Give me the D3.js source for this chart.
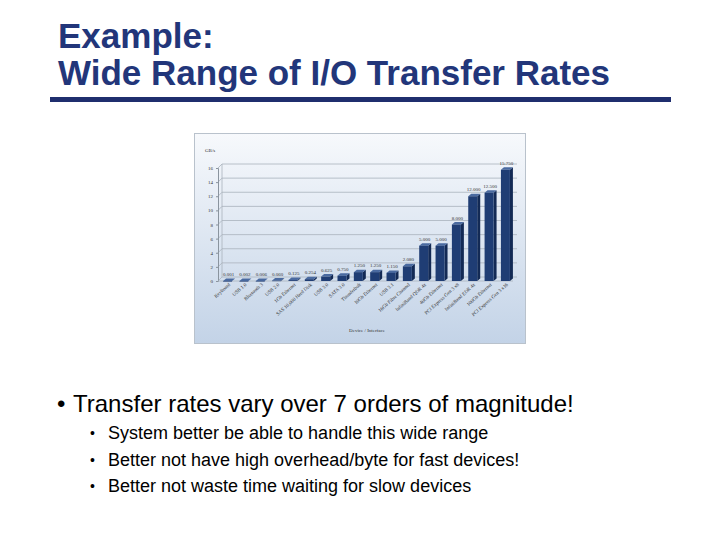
<!DOCTYPE html>
<html>
<head>
<meta charset="utf-8">
<script src="https://cdn.jsdelivr.net/npm/d3@7"></script>
<style>
  body { margin: 0; background: #ffffff; }
  svg { display: block; }
</style>
</head>
<body>
<div id="slide"></div>
<script>
// chart data (GB/s)
var devices = ["Keyboard", "USB 1.0", "Bluetooth 3", "USB 2.0", "1Gb Ethernet",
  "SAS 10,000 Hard Disk", "USB 3.0", "SATA 3.0", "Thunderbolt", "10Gb Ethernet",
  "USB 3.1", "16Gb Fibre Channel", "InfiniBand QDR 4x", "40Gb Ethernet",
  "PCI Express Gen 3 x8", "InfiniBand EDR 4x", "100Gb Ethernet", "PCI Express Gen 3 x16"];
var rates = [0.001, 0.002, 0.006, 0.060, 0.125, 0.254, 0.625, 0.750, 1.250, 1.250,
  1.150, 2.080, 5.000, 5.000, 8.000, 12.000, 12.500, 15.750];
var yTicks = [0, 2, 4, 6, 8, 10, 12, 14, 16];

var bullets = ["System better be able to handle this wide range",
  "Better not have high overhead/byte for fast devices!",
  "Better not waste time waiting for slow devices"];

var titleColor = "#22367a";
var barFront = "#1f3d74";
var barSide = "#132a55";
var barTop = "#4a6aa0";
var sans = "Liberation Sans, Arial, sans-serif";
var small = "Liberation Serif, serif";

var svg = d3.select("#slide").append("svg")
  .attr("width", 720)
  .attr("height", 540);

// title
svg.append("text").attr("x", 58).attr("y", 48)
  .attr("font-family", sans)
  .attr("font-weight", "bold").attr("font-size", 35)
  .attr("fill", titleColor).text("Example:");
svg.append("text").attr("x", 58).attr("y", 85)
  .attr("font-family", sans)
  .attr("font-weight", "bold").attr("font-size", 35)
  .attr("fill", titleColor).text("Wide Range of I/O Transfer Rates");
svg.append("rect").attr("x", 50).attr("y", 97).attr("width", 621).attr("height", 5)
  .attr("fill", "#1f2e6e");

// chart panel
var defs = svg.append("defs");
var grad = defs.append("linearGradient").attr("id", "panelGrad")
  .attr("x1", 0).attr("y1", 0).attr("x2", 0).attr("y2", 1);
grad.append("stop").attr("offset", "0%").attr("stop-color", "#f7f9fc");
grad.append("stop").attr("offset", "100%").attr("stop-color", "#c3d3e7");

svg.append("rect").attr("x", 194.5).attr("y", 133.5).attr("width", 331).attr("height", 210)
  .attr("fill", "url(#panelGrad)").attr("stroke", "#b9c2cc").attr("stroke-width", 1);

var dx = 4, dy = 4; // 3d depth offset

var y = d3.scaleLinear().domain([0, 16]).range([281, 168]);
var x = d3.scaleBand().domain(devices).range([219, 514]).paddingInner(0.45).paddingOuter(0.25);

var chart = svg.append("g");

// back wall gridlines
chart.selectAll("line.grid").data(yTicks).enter().append("line")
  .attr("class", "grid")
  .attr("x1", 218 + dx).attr("x2", 517)
  .attr("y1", function(d){ return y(d) - dy; })
  .attr("y2", function(d){ return y(d) - dy; })
  .attr("stroke", "#a9b3bd").attr("stroke-width", 0.8);
chart.selectAll("line.slant").data(yTicks).enter().append("line")
  .attr("class", "slant")
  .attr("x1", 218).attr("x2", 218 + dx)
  .attr("y1", function(d){ return y(d); })
  .attr("y2", function(d){ return y(d) - dy; })
  .attr("stroke", "#a9b3bd").attr("stroke-width", 0.8);
chart.append("line").attr("x1", 218 + dx).attr("x2", 218 + dx)
  .attr("y1", y(16) - dy).attr("y2", y(0) - dy)
  .attr("stroke", "#a9b3bd").attr("stroke-width", 0.8);

// y axis
var yAxis = d3.axisLeft(y).tickValues(yTicks).tickSize(2).tickPadding(3);
var ya = chart.append("g").attr("transform", "translate(218,0)").call(yAxis);
ya.select(".domain").attr("stroke", "#8a949e");
ya.selectAll(".tick line").attr("stroke", "#8a949e");
ya.selectAll("text").attr("font-family", small)
  .attr("font-size", 5).attr("fill", "#333");
chart.append("line").attr("x1", 218).attr("x2", 513)
  .attr("y1", y(0)).attr("y2", y(0)).attr("stroke", "#a9b3bd").attr("stroke-width", 0.8);

chart.append("text").attr("x", 205).attr("y", 152)
  .attr("font-family", small).attr("font-size", 5)
  .attr("fill", "#333").text("GB/s");

// bars
var bars = chart.selectAll("g.bar").data(rates).enter().append("g").attr("class", "bar");
var bw = x.bandwidth();
bars.append("path")
  .attr("d", function(d, i){
    var x0 = x(devices[i]) + bw, y0 = y(d), y1 = y(0);
    return "M" + x0 + "," + y0 + "L" + (x0 + 3) + "," + (y0 - 2.5) + "L" + (x0 + 3) + "," + (y1 - 2.5) + "L" + x0 + "," + y1 + "Z";
  })
  .attr("fill", barSide);
bars.append("path")
  .attr("d", function(d, i){
    var x0 = x(devices[i]), y0 = y(d);
    return "M" + x0 + "," + y0 + "L" + (x0 + 3) + "," + (y0 - 2.5) + "L" + (x0 + bw + 3) + "," + (y0 - 2.5) + "L" + (x0 + bw) + "," + y0 + "Z";
  })
  .attr("fill", barTop);
bars.append("rect")
  .attr("x", function(d, i){ return x(devices[i]); })
  .attr("y", function(d){ return y(d); })
  .attr("width", bw)
  .attr("height", function(d){ return Math.max(0.6, y(0) - y(d)); })
  .attr("fill", barFront);

// value labels
chart.selectAll("text.val").data(rates).enter().append("text")
  .attr("class", "val")
  .attr("x", function(d, i){ return x(devices[i]) + bw / 2 + 1; })
  .attr("y", function(d){ return y(d) - 5; })
  .attr("text-anchor", "middle")
  .attr("font-family", small).attr("font-size", 5)
  .attr("fill", "#333")
  .text(function(d){ return d3.format(".3f")(d); });

// category labels
chart.selectAll("text.cat").data(devices).enter().append("text")
  .attr("class", "cat")
  .attr("transform", function(d){
    return "translate(" + (x(d) + bw / 2 + 3) + "," + (y(0) + 4) + ") rotate(-42)";
  })
  .attr("text-anchor", "end")
  .attr("font-family", small).attr("font-size", 5)
  .attr("fill", "#333")
  .text(function(d){ return d; });

chart.append("text").attr("x", 367).attr("y", 332).attr("text-anchor", "middle")
  .attr("font-family", small).attr("font-size", 5)
  .attr("fill", "#333").text("Device / Interface");

// bullets
svg.append("text").attr("x", 57).attr("y", 412)
  .attr("font-family", sans).attr("font-size", 24)
  .attr("fill", "#000").text("\u2022");
svg.append("text").attr("x", 73).attr("y", 412)
  .attr("font-family", sans).attr("font-size", 24)
  .attr("fill", "#000").text("Transfer rates vary over 7 orders of magnitude!");

svg.selectAll("text.subdot").data(bullets).enter().append("text")
  .attr("class", "subdot")
  .attr("x", 90).attr("y", function(d, i){ return 438 + i * 26.5; })
  .attr("font-family", sans).attr("font-size", 14)
  .attr("fill", "#000")
  .text("\u2022");
svg.selectAll("text.sub").data(bullets).enter().append("text")
  .attr("class", "sub")
  .attr("x", 108).attr("y", function(d, i){ return 439 + i * 26.5; })
  .attr("font-family", sans).attr("font-size", 18)
  .attr("fill", "#000")
  .text(function(d){ return d; });
</script>
</body>
</html>
